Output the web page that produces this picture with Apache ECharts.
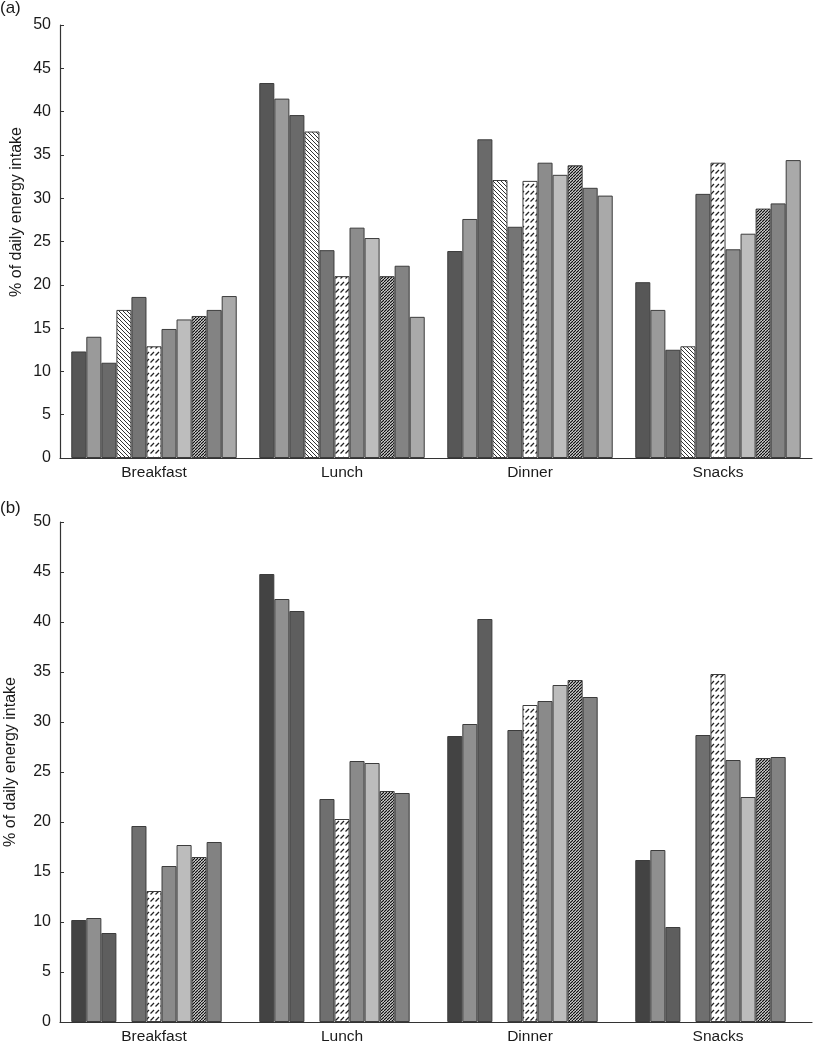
<!DOCTYPE html>
<html>
<head>
<meta charset="utf-8">
<script src="https://cdn.jsdelivr.net/npm/echarts@6/dist/echarts.min.js"></script>
<style>
html,body{margin:0;padding:0;background:#fff;}
#chart{width:814px;height:1047px;}
</style>
</head>
<body>
<div id="chart"></div>
<script>
// ---------- data ----------
const categories = ['Breakfast', 'Lunch', 'Dinner', 'Snacks'];
const yMin = 0, yMax = 50, yStep = 5;
const yAxisTitle = '% of daily energy intake';
const panelLabels = ['(a)', '(b)'];

// Panel (a): 11 groups
const a1  = [12.3, 43.3, 23.9, 20.3];
const a2  = [14.0, 41.5, 27.6, 17.1];
const a3  = [11.0, 39.6, 36.8, 12.5];
const a4  = [17.1, 37.7, 32.1, 12.9];
const a5  = [18.6, 24.0, 26.7, 30.5];
const a6  = [12.9, 21.0, 32.0, 34.1];
const a7  = [14.9, 26.6, 34.1, 24.1];
const a8  = [16.0, 25.4, 32.7, 25.9];
const a9  = [16.4, 21.0, 33.8, 28.8];
const a10 = [17.1, 22.2, 31.2, 29.4];
const a11 = [18.7, 16.3, 30.3, 34.4];

// Panel (b): groups 4 and 11 absent
const b1  = [10.2, 44.8, 28.6, 16.2];
const b2  = [10.4, 42.3, 29.8, 17.2];
const b3  = [8.9, 41.1, 40.3, 9.5];
const b4  = [null, null, null, null];
const b5  = [19.6, 22.3, 29.2, 28.7];
const b6  = [13.1, 20.3, 31.7, 34.8];
const b7  = [15.6, 26.1, 32.1, 26.2];
const b8  = [17.7, 25.9, 33.7, 22.5];
const b9  = [16.5, 23.1, 34.2, 26.4];
const b10 = [18.0, 22.9, 32.5, 26.5];
const b11 = [null, null, null, null];

const seriesA = [a1, a2, a3, a4, a5, a6, a7, a8, a9, a10, a11];
const seriesB = [b1, b2, b3, b4, b5, b6, b7, b8, b9, b10, b11];

// ---------- patterns ----------
function makeTile(w, h, draw) {
  const c = document.createElement('canvas');
  c.width = w; c.height = h;
  const ctx = c.getContext('2d');
  ctx.fillStyle = '#ffffff';
  ctx.fillRect(0, 0, w, h);
  draw(ctx, w, h);
  return c;
}
const sparseBack = makeTile(4, 4, (ctx, n) => {
  ctx.strokeStyle = '#333'; ctx.lineWidth = 1;
  for (let x0 = -n; x0 <= n; x0 += n) {
    ctx.beginPath(); ctx.moveTo(x0, 0); ctx.lineTo(x0 + n, n); ctx.stroke();
  }
});
const denseFwd = makeTile(3, 3, (ctx, n) => {
  ctx.strokeStyle = '#111'; ctx.lineWidth = 1.3;
  for (let x0 = -n; x0 <= n; x0 += n) {
    ctx.beginPath(); ctx.moveTo(x0, n); ctx.lineTo(x0 + n, 0); ctx.stroke();
  }
});
const dashes = makeTile(5, 7, (ctx) => {
  ctx.strokeStyle = '#222'; ctx.lineWidth = 1.3;
  ctx.beginPath(); ctx.moveTo(0.5, 5.5); ctx.lineTo(4, 2); ctx.stroke();
});
const pat = (img) => ({ image: img, repeat: 'repeat' });

const colorsA = ['#575757', '#9a9a9a', '#6a6a6a', pat(sparseBack), '#757575', pat(dashes),
                 '#8c8c8c', '#bdbdbd', pat(denseFwd), '#838383', '#a9a9a9'];
const colorsB = ['#434343', '#8f8f8f', '#5e5e5e', '#ffffff', '#6f6f6f', pat(dashes),
                 '#8a8a8a', '#bcbcbc', pat(denseFwd), '#828282', '#ffffff'];

// ---------- chart ----------
const chart = echarts.init(document.getElementById('chart'), null, { renderer: 'canvas' });
const font = 'Liberation Sans, Arial, sans-serif';

const grids = [
  { left: 60, top: 25, width: 752, height: 433 },
  { left: 60, top: 522, width: 752, height: 500 }
];

const xAxes = grids.map((g, i) => ({
  type: 'category', gridIndex: i, data: categories,
  axisLine: { lineStyle: { color: '#333', width: 1.2 } },
  axisTick: { inside: true, length: 5, lineStyle: { color: '#333' } },
  axisLabel: { color: '#1a1a1a', fontSize: 15.5, fontFamily: font, margin: 7 }
}));
const yAxes = grids.map((g, i) => ({
  type: 'value', gridIndex: i, min: yMin, max: yMax, interval: yStep,
  axisLine: { show: true, lineStyle: { color: '#333', width: 1.2 } },
  axisTick: { show: true, inside: true, length: 4, lineStyle: { color: '#333' } },
  splitLine: { show: false },
  axisLabel: { color: '#1a1a1a', fontSize: 16, fontFamily: font, margin: 9 }
}));

const series = [];
function addSeries(list, colors, idx) {
  list.forEach((d, k) => {
    series.push({
      type: 'bar', xAxisIndex: idx, yAxisIndex: idx, data: d,
      barGap: '0%', barCategoryGap: '12%',
      silent: true,
      itemStyle: { color: colors[k], borderColor: '#3c3c3c', borderWidth: 1 }
    });
  });
}
addSeries(seriesA, colorsA, 0);
addSeries(seriesB, colorsB, 1);

const graphic = [
  { type: 'text', left: 0, top: 0, style: { text: panelLabels[0], font: '17px ' + font, fill: '#1a1a1a' } },
  { type: 'text', left: 0, top: 500, style: { text: panelLabels[1], font: '17px ' + font, fill: '#1a1a1a' } },
  { type: 'text', x: 17, y: 212, rotation: Math.PI / 2,
    style: { text: yAxisTitle, font: '16px ' + font, fill: '#1a1a1a', align: 'center', verticalAlign: 'middle' } },
  { type: 'text', x: 11, y: 762, rotation: Math.PI / 2,
    style: { text: yAxisTitle, font: '16px ' + font, fill: '#1a1a1a', align: 'center', verticalAlign: 'middle' } }
];

chart.setOption({
  animation: false,
  backgroundColor: '#ffffff',
  grid: grids,
  xAxis: xAxes,
  yAxis: yAxes,
  series: series,
  graphic: graphic
});
</script>
</body>
</html>
